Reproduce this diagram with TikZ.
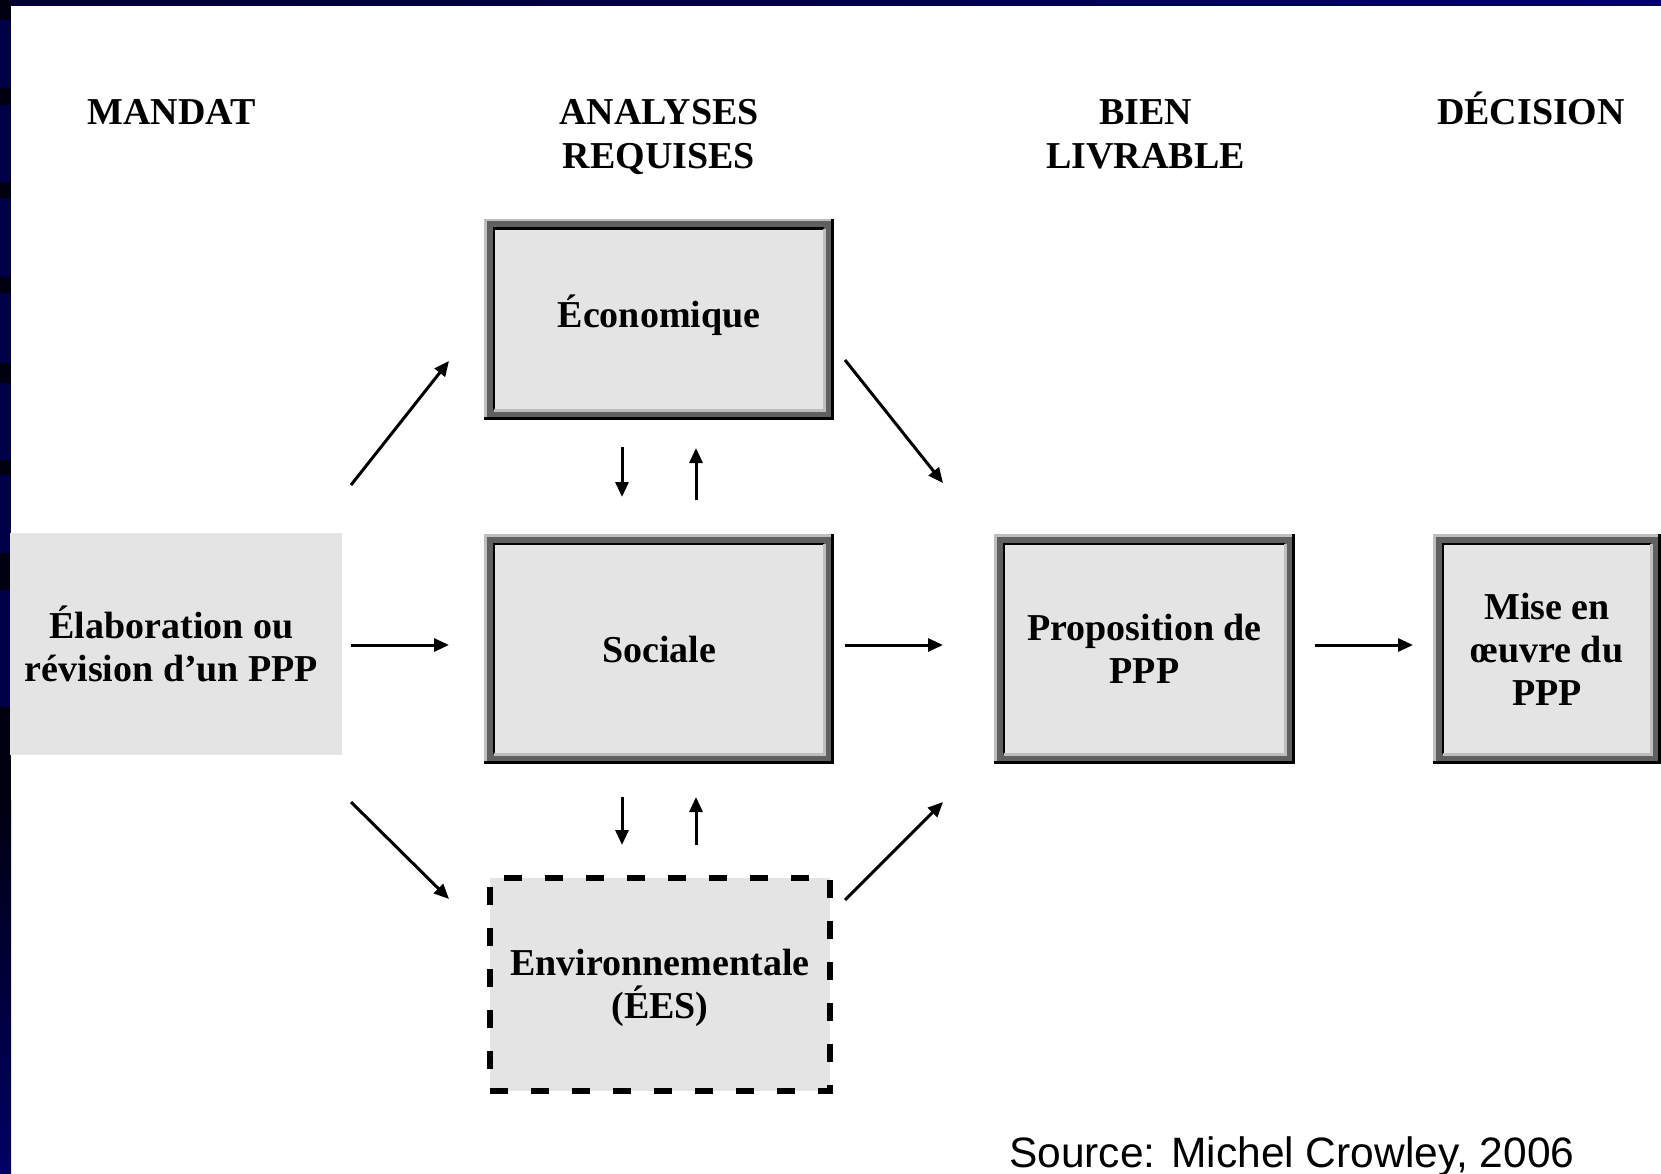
\documentclass[tikz,border=0pt]{standalone}
\usepackage{fontspec}
\setmainfont{Liberation Serif}
\newfontfamily\arialfont{Liberation Sans}
\usetikzlibrary{arrows.meta,calc}
\definecolor{navy}{HTML}{000066}
\definecolor{darknavy}{HTML}{000030}
\definecolor{stripnavy}{HTML}{000048}
\definecolor{stripblack}{HTML}{000010}
\definecolor{boxgray}{HTML}{E4E4E4}
\definecolor{framedark}{HTML}{606060}
\definecolor{framelight}{HTML}{BEBEBE}
\newcommand\bevelframe[1]{%
  \draw[framedark, line width=11pt] ($(#1.north west)+(5.5,5.5)$) rectangle ($(#1.south east)+(-5.5,-5.5)$);
  \draw[framelight, line width=2.5pt] ($(#1.south west)+(1.25,0)$) |- ($(#1.north east)+(0,1.25)$);
  \draw[black, line width=3pt] ($(#1.south west)+(0,-1.5)$) -| ($(#1.north east)+(-1.5,0)$);
  \draw[black, line width=2.5pt] ($(#1.south west)+(9.75,-9.75)$) |- ($(#1.north east)+(-9.75,9.75)$);
  \draw[framelight, line width=2.5pt] ($(#1.south west)+(9.75,-9.75)$) -| ($(#1.north east)+(-9.75,9.75)$);
}
\begin{document}
\begin{tikzpicture}[x=1pt,y=-1pt,
  lbl/.style={font=\bfseries\fontsize{38}{43}\selectfont, align=center},
  hdr/.style={font=\bfseries\fontsize{38}{44}\selectfont, align=center, inner sep=0pt},
  bevelbox/.style={lbl, fill=boxgray, inner sep=0pt, outer sep=0pt},
  dashbox/.style={lbl, fill=boxgray, draw=black, line width=6pt, dash pattern=on 18pt off 23pt, inner sep=0pt, outer sep=0pt},
  arr/.style={line width=3pt, -{Triangle[length=15pt,width=13pt]}}]
\useasboundingbox (0,0) rectangle (1661,1174);
\fill[white] (0,0) rectangle (1661,1174);
% slide border
\shade[left color=darknavy, right color=navy] (0,0) rectangle (1661,6);
\fill[stripnavy] (0,0) rectangle (11,800);
\foreach \a/\b in {0/20,88/105,182/198,277/293,363/383,460/475,553/590,707/800}
  \fill[stripblack] (0,\a) rectangle (11,\b);
\shade[top color=stripblack, bottom color=navy] (0,800) rectangle (11,1174);
% headers
\node[hdr, anchor=base] (mandat) at (171.5,124.5) {MANDAT};
\node[hdr, anchor=north] (analyses) at (659,99.6) {ANALYSES\\REQUISES};
\node[hdr, anchor=north] (bien) at (1145.5,99.6) {BIEN\\LIVRABLE};
\node[hdr, anchor=base] (decision) at (1531,124.5) {DÉCISION};
% boxes
\node[lbl, fill=boxgray, inner sep=0pt, outer sep=0pt, minimum width=332pt, minimum height=222pt] (elab) at (176,644) {Élaboration ou\hspace*{9pt}\\révision d’un PPP\hspace*{9pt}};
\node[bevelbox, minimum width=350pt, minimum height=201pt] (eco) at (659,319.5) {Économique\rule[-16pt]{0pt}{16pt}};
\node[bevelbox, minimum width=350pt, minimum height=230pt] (soc) at (659,649) {Sociale};
\node[dashbox, minimum width=340pt, minimum height=213pt] (env) at (660,984.5) {\rule{0pt}{34pt}Environnementale\\(ÉES)};
\node[bevelbox, minimum width=301pt, minimum height=230pt] (prop) at (1144.5,649) {Proposition de\\PPP};
\node[bevelbox, minimum width=228pt, minimum height=230pt] (mise) at (1547,649) {Mise en\\œuvre du\\PPP};
\bevelframe{eco}
\bevelframe{soc}
\bevelframe{prop}
\bevelframe{mise}
% arrows
\draw[arr] ($(elab.north east)+(9,-48)$) -- ($(eco.south west)+(-35,-59)$);
\draw[arr] ($(elab.east)+(9,1)$) -- ($(soc.west)+(-35,-4)$);
\draw[arr] ($(elab.south east)+(9,47)$) -- ($(env.north west)+(-41,21)$);
\draw[arr] ($(eco.south east)+(11,-60)$) -- ($(prop.north west)+(-51,-51)$);
\draw[arr] ($(soc.east)+(11,-4)$) -- ($(prop.west)+(-51,-4)$);
\draw[arr] ($(env.north east)+(15,22)$) -- ($(prop.south west)+(-51,38)$);
\draw[arr] ($(prop.east)+(20,-4)$) -- ($(mise.west)+(-20,-4)$);
\draw[arr] ($(eco.south)+(-37,27)$) -- ($(soc.north)+(-37,-37)$);
\draw[arr] ($(soc.north)+(37,-34)$) -- ($(eco.south)+(37,28)$);
\draw[arr] ($(soc.south)+(-37,33)$) -- ($(env.north)+(-38,-33)$);
\draw[arr] ($(env.north)+(36,-33)$) -- ($(soc.south)+(37,33)$);
% source
\node[font=\arialfont\fontsize{42.5}{48}\selectfont, anchor=base west, inner sep=0pt] (source) at (1009,1167) {Source: Michel Crowley, 2006};
\end{tikzpicture}
\end{document}
